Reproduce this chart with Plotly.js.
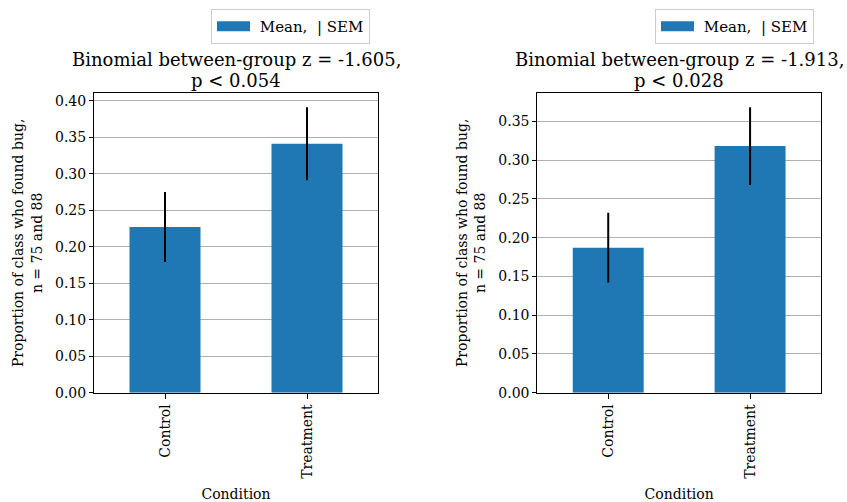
<!DOCTYPE html>
<html><head><meta charset="utf-8">
<script src="https://cdn.plot.ly/plotly-3.0.1.min.js"></script>
<style>body{margin:0;background:#fff;}#chart{width:847px;height:502px;}</style>
</head><body><div id="chart"></div>
<script>
const categories = ["Control", "Treatment"];
const meansLeft = [0.227, 0.341];
const semLeft = [0.048, 0.050];
const meansRight = [0.187, 0.318];
const semRight = [0.045, 0.050];
const legendLabel = "\u00a0Mean,\u00a0\u00a0| SEM";
const titleLeft = ["Binomial between-group z = -1.605,", "p &lt; 0.054"];
const titleRight = ["Binomial between-group z = -1.913,", "p &lt; 0.028"];
const yTitle = "Proportion of class who found bug,<br>n = 75 and 88";
const xTitle = "Condition";
const yTicksLeft = [0.00, 0.05, 0.10, 0.15, 0.20, 0.25, 0.30, 0.35, 0.40];
const yTicksRight = [0.00, 0.05, 0.10, 0.15, 0.20, 0.25, 0.30, 0.35];

const FONT = "DejaVu Serif, serif";
const BLUE = "#1f77b4";
const W = 847, H = 502;
const px = v => v / W;
const py = v => 1 - v / H;

function barTrace(means, sem, xa, ya) {
  return {
    type: "bar", x: categories, y: means, xaxis: xa, yaxis: ya,
    name: legendLabel, showlegend: false,
    width: 0.5,
    marker: {color: BLUE, line: {width: 0}},
    error_y: {type: "data", array: sem, visible: true, color: "#000", thickness: 2, width: 0}
  };
}
// legend-only entries drawn as a wide patch, like the reference
function legendEntry(xa, ya, leg) {
  return {
    type: "scatter", mode: "lines", x: [null], y: [null], xaxis: xa, yaxis: ya,
    name: legendLabel, legend: leg, showlegend: true, hoverinfo: "skip",
    line: {color: BLUE, width: 10.5}
  };
}

const data = [
  barTrace(meansLeft, semLeft, "x", "y"),
  barTrace(meansRight, semRight, "x2", "y2"),
  legendEntry("x", "y", "legend"),
  legendEntry("x2", "y2", "legend2")
];

function xAxis(domain, anchor) {
  return {
    domain: domain, anchor: anchor, type: "category", range: [-0.5, 1.5],
    tickangle: -90, ticks: "outside", ticklen: 5, tickcolor: "#000", tickwidth: 1,
    showline: true, mirror: true, linecolor: "#000", linewidth: 1,
    showgrid: false, zeroline: false, automargin: false,
    tickfont: {family: FONT, size: 14, color: "#000"},
    title: {text: xTitle, font: {family: FONT, size: 14, color: "#000"}, standoff: 17}
  };
}
function yAxis(domain, anchor, ticks, maxv) {
  return {
    domain: domain, anchor: anchor, range: [0, maxv],
    tickmode: "array", tickvals: ticks, tickformat: ".2f",
    ticks: "outside", ticklen: 4, tickcolor: "#000", tickwidth: 1,
    showline: true, mirror: true, linecolor: "#000", linewidth: 1,
    showgrid: true, gridcolor: "#b0b0b0", gridwidth: 1, zeroline: false,
    layer: "above traces", automargin: false,
    tickfont: {family: FONT, size: 14, color: "#000"},
    title: {text: yTitle, font: {family: FONT, size: 14, color: "#000"}, standoff: 9}
  };
}

const yDom = [py(392.7), py(93)];
function legendBox(xRight) {
  return {
    x: px(xRight), xanchor: "right", y: py(9), yanchor: "top",
    itemwidth: 33,
    bordercolor: "#cccccc", borderwidth: 1, bgcolor: "#fff",
    font: {family: FONT, size: 15, color: "#000"}
  };
}
function titleLines(lines, xref, yref) {
  return lines.map((t, i) => ({
    text: t, xref: xref, yref: yref, x: 0.5, y: 1, xanchor: "center", yanchor: "bottom",
    yshift: i === 0 ? 21 : 0.5, showarrow: false,
    font: {family: FONT, size: 18, color: "#000"}
  }));
}
const layout = {
  width: W, height: H,
  margin: {l: 0, r: 0, t: 0, b: 0},
  paper_bgcolor: "#fff", plot_bgcolor: "#fff",
  font: {family: FONT, size: 14, color: "#000"},
  xaxis: xAxis([px(94), px(378)], "y"),
  yaxis: yAxis(yDom, "x", yTicksLeft, 0.4105),
  xaxis2: xAxis([px(537.3), px(821)], "y2"),
  yaxis2: yAxis(yDom, "x2", yTicksRight, 0.3865),
  legend: legendBox(370),
  legend2: legendBox(814),
  annotations: titleLines(titleLeft, "x domain", "y domain")
    .concat(titleLines(titleRight, "x2 domain", "y2 domain"))
};

Plotly.newPlot("chart", data, layout, {displayModeBar: false, staticPlot: true});
</script>
</body></html>
